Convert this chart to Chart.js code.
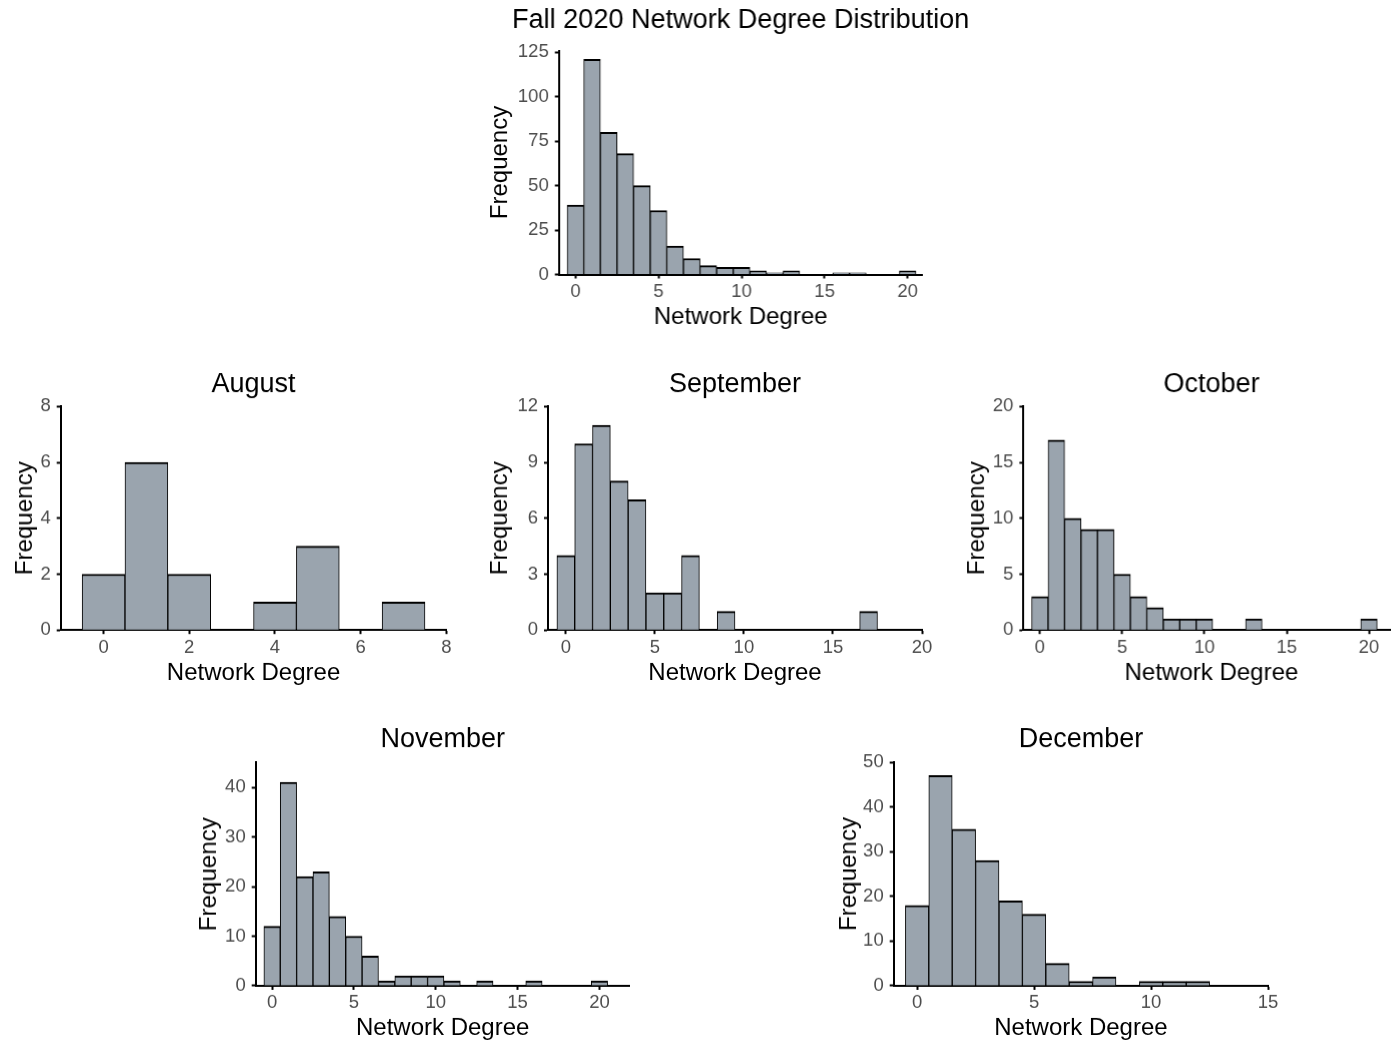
<!DOCTYPE html>
<html>
<head>
<meta charset="utf-8">
<title>Fall 2020 Network Degree Distribution</title>
<script src="https://cdn.jsdelivr.net/npm/chart.js@4.4.0/dist/chart.umd.min.js"></script>
<style>
  html, body { margin: 0; padding: 0; background: #fff; overflow: hidden; }
  body { width: 1391px; height: 1042px; position: relative; }
  .panel { position: absolute; }
</style>
</head>
<body>
<script>
// frequency of each network degree, first bin is degree 0
const fallCounts = [39, 121, 80, 68, 50, 36, 16, 9, 5, 4, 4, 2, 1, 2, 0, 0, 1, 1, 0, 0, 2];
const augustCounts = [2, 6, 2, 0, 1, 3, 0, 1];
const septemberCounts = [4, 10, 11, 8, 7, 2, 2, 4, 0, 1, 0, 0, 0, 0, 0, 0, 0, 1];
const octoberCounts = [3, 17, 10, 9, 9, 5, 3, 2, 1, 1, 1, 0, 0, 1, 0, 0, 0, 0, 0, 0, 1];
const novemberCounts = [12, 41, 22, 23, 14, 10, 6, 1, 2, 2, 2, 1, 0, 1, 0, 0, 1, 0, 0, 0, 1];
const decemberCounts = [18, 47, 35, 28, 19, 16, 5, 1, 2, 0, 1, 1, 1, 0, 0];

// tick labels
const degreeTicks20 = [0, 5, 10, 15, 20];
const augustXTicks = [0, 2, 4, 6, 8];
const decemberXTicks = [0, 5, 10, 15];
const fallYTicks = [0, 25, 50, 75, 100, 125];
const augustYTicks = [0, 2, 4, 6, 8];
const septemberYTicks = [0, 3, 6, 9, 12];
const octoberYTicks = [0, 5, 10, 15, 20];
const novemberYTicks = [0, 10, 20, 30, 40];
const decemberYTicks = [0, 10, 20, 30, 40, 50];

const FONT = '"Liberation Sans", Arial, Helvetica, sans-serif';
const BAR_FILL = '#9aa4ae';
const TITLE_SIZE = 27;
const AXIS_TITLE_SIZE = 24;
const TICK_SIZE = 18.5;

// page placement of each panel (axis corner, panel edges, text centres)
const panels = [
  { title: 'Fall 2020 Network Degree Distribution', counts: fallCounts, xTicks: degreeTicks20, yTicks: fallYTicks,
    xMin: -1, xMax: 20.9, yMax: 126,
    axisX: 559, axisY: 274, right: 922, top: 50, titleY: 20, yTitleX: 500.3, xTitleY: 317 },
  { title: 'August', counts: augustCounts, xTicks: augustXTicks, yTicks: augustYTicks,
    xMin: -1, xMax: 8, yMax: 8,
    axisX: 61, axisY: 629.5, right: 446.7, top: 406.7, titleY: 384.8, yTitleX: 25.3, xTitleY: 673 },
  { title: 'September', counts: septemberCounts, xTicks: degreeTicks20, yTicks: septemberYTicks,
    xMin: -1, xMax: 20, yMax: 12,
    axisX: 548.3, axisY: 629.5, right: 922.3, top: 406.7, titleY: 384.8, yTitleX: 500.3, xTitleY: 673 },
  { title: 'October', counts: octoberCounts, xTicks: degreeTicks20, yTicks: octoberYTicks,
    xMin: -1, xMax: 21.85, yMax: 20,
    axisX: 1023.3, axisY: 629.5, right: 1398.5, top: 406.7, titleY: 384.8, yTitleX: 977, xTitleY: 673 },
  { title: 'November', counts: novemberCounts, xTicks: degreeTicks20, yTicks: novemberYTicks,
    xMin: -1, xMax: 21.85, yMax: 45,
    axisX: 255.3, axisY: 985.3, right: 629.3, top: 762.7, titleY: 739.8, yTitleX: 208.6, xTitleY: 1028 },
  { title: 'December', counts: decemberCounts, xTicks: decemberXTicks, yTicks: decemberYTicks,
    xMin: -1, xMax: 15, yMax: 50,
    axisX: 893.3, axisY: 985.3, right: 1267.7, top: 762.3, titleY: 739.8, yTitleX: 848.6, xTitleY: 1028 }
];

function makePanel(p) {
  const left = p.yTitleX - AXIS_TITLE_SIZE / 2;
  const top = p.titleY - TITLE_SIZE / 2;
  // canvas is centred on the panel so the full-width title lines up with it
  const mid = (p.axisX + p.right) / 2;
  const right = 2 * mid - left;
  const bottom = p.xTitleY + AXIS_TITLE_SIZE / 2;

  const div = document.createElement('div');
  div.className = 'panel';
  div.style.left = left + 'px';
  div.style.top = top + 'px';
  div.style.width = (right - left) + 'px';
  div.style.height = (bottom - top) + 'px';
  const canvas = document.createElement('canvas');
  div.appendChild(canvas);
  document.body.appendChild(div);

  const yWidth = p.axisX - left;
  const rightGap = right - p.right;
  const xHeight = bottom - p.axisY;
  const titleGap = p.top - top - TITLE_SIZE;

  const tickFont = { family: FONT, size: TICK_SIZE, lineHeight: 1 };
  const axisTitleFont = { family: FONT, size: AXIS_TITLE_SIZE, lineHeight: 1 };
  const tickGrid = {
    display: true, drawOnChartArea: false, drawTicks: true, offset: false,
    tickLength: 4, tickColor: '#000', tickWidth: 2
  };

  new Chart(canvas, {
    type: 'bar',
    data: {
      datasets: [{
        data: p.counts.map((c, i) => ({ x: i, y: c })),
        backgroundColor: BAR_FILL,
        borderColor: '#000',
        borderWidth: { left: 1, right: 1, top: 2, bottom: 0 },
        borderSkipped: false,
        barPercentage: 1,
        categoryPercentage: 1
      }]
    },
    options: {
      responsive: true,
      maintainAspectRatio: false,
      animation: false,
      devicePixelRatio: 1,
      layout: { padding: 0, autoPadding: false },
      plugins: {
        legend: { display: false },
        tooltip: { enabled: false },
        title: {
          display: true, text: p.title, color: '#000',
          font: { family: FONT, size: TITLE_SIZE, weight: 'normal', lineHeight: 1 },
          padding: { top: 0, bottom: titleGap }
        }
      },
      scales: {
        x: {
          type: 'linear', min: p.xMin, max: p.xMax, offset: false,
          grid: tickGrid,
          border: { display: true, color: '#000', width: 2 },
          ticks: { color: '#4d4d4d', padding: 4, maxRotation: 0, autoSkip: false, font: tickFont },
          afterBuildTicks: s => { s.ticks = p.xTicks.map(v => ({ value: v })); },
          afterFit: s => { s.height = xHeight; },
          title: { display: true, text: 'Network Degree', color: '#000', padding: 0, font: axisTitleFont }
        },
        y: {
          type: 'linear', min: 0, max: p.yMax,
          grid: tickGrid,
          border: { display: true, color: '#000', width: 2 },
          ticks: { color: '#4d4d4d', padding: 6, autoSkip: false, font: tickFont },
          afterBuildTicks: s => { s.ticks = p.yTicks.map(v => ({ value: v })); },
          afterFit: s => { s.width = yWidth; },
          title: { display: true, text: 'Frequency', color: '#000', padding: 0, font: axisTitleFont }
        },
        // empty right-hand scale, only reserves space so the panel sits centred under its title
        spacer: {
          type: 'linear', position: 'right', min: 0, max: 1,
          grid: { display: false },
          border: { display: false },
          ticks: { display: false },
          afterFit: s => { s.width = rightGap; }
        }
      }
    }
  });
}

panels.forEach(makePanel);
</script>
</body>
</html>
